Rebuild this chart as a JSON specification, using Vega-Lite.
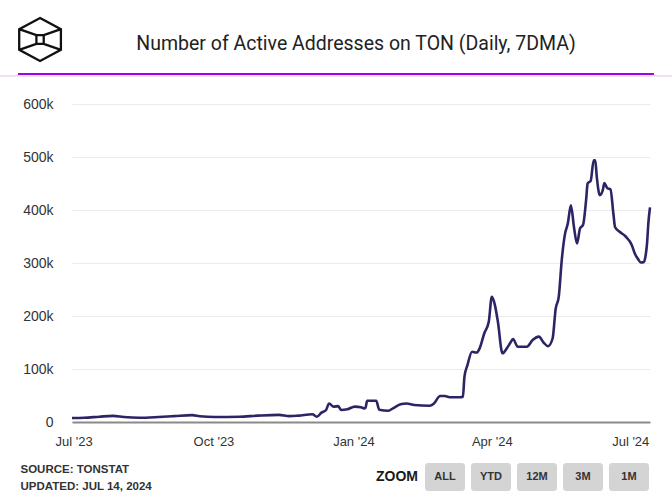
{
  "$schema": "https://vega.github.io/schema/vega-lite/v6.json",
  "width": 578,
  "height": 318,
  "autosize": {"type": "none"},
  "padding": {"left": 72, "top": 104, "right": 22, "bottom": 75},
  "background": "#ffffff",
  "config": {"view": {"stroke": null}, "font": "Liberation Sans"},
  "title": {
    "text": "Number of Active Addresses on TON (Daily, 7DMA)",
    "font": "Roboto",
    "fontSize": 19.5,
    "fontWeight": "normal",
    "color": "#222222",
    "anchor": "middle",
    "frame": "group",
    "dx": -5,
    "baseline": "alphabetic",
    "offset": -56
  },
  "layer": [
    {
      "layer": [
        {
          "data": {
            "values": [
              {"date": "2023-06-30", "addresses": 7500},
              {"date": "2023-07-08", "addresses": 8000},
              {"date": "2023-07-18", "addresses": 10000},
              {"date": "2023-07-27", "addresses": 11500},
              {"date": "2023-08-03", "addresses": 9400},
              {"date": "2023-08-13", "addresses": 8000},
              {"date": "2023-08-26", "addresses": 9400},
              {"date": "2023-09-05", "addresses": 11000},
              {"date": "2023-09-17", "addresses": 13000},
              {"date": "2023-09-22", "addresses": 11000},
              {"date": "2023-10-02", "addresses": 9500},
              {"date": "2023-10-18", "addresses": 10000},
              {"date": "2023-10-30", "addresses": 12000},
              {"date": "2023-11-13", "addresses": 13500},
              {"date": "2023-11-20", "addresses": 11000},
              {"date": "2023-11-26", "addresses": 12000},
              {"date": "2023-12-05", "addresses": 14500},
              {"date": "2023-12-08", "addresses": 10000},
              {"date": "2023-12-11", "addresses": 17600},
              {"date": "2023-12-14", "addresses": 22600},
              {"date": "2023-12-16", "addresses": 35000},
              {"date": "2023-12-19", "addresses": 29000},
              {"date": "2023-12-22", "addresses": 30000},
              {"date": "2023-12-24", "addresses": 22600},
              {"date": "2023-12-28", "addresses": 24000},
              {"date": "2024-01-02", "addresses": 29000},
              {"date": "2024-01-06", "addresses": 27700},
              {"date": "2024-01-08", "addresses": 25800},
              {"date": "2024-01-09", "addresses": 27000},
              {"date": "2024-01-10", "addresses": 40000},
              {"date": "2024-01-16", "addresses": 40000},
              {"date": "2024-01-18", "addresses": 23000},
              {"date": "2024-01-24", "addresses": 21300},
              {"date": "2024-01-27", "addresses": 25800},
              {"date": "2024-02-01", "addresses": 33400},
              {"date": "2024-02-05", "addresses": 35000},
              {"date": "2024-02-10", "addresses": 32000},
              {"date": "2024-02-20", "addresses": 30800},
              {"date": "2024-02-23", "addresses": 35000},
              {"date": "2024-02-27", "addresses": 49000},
              {"date": "2024-03-01", "addresses": 49000},
              {"date": "2024-03-05", "addresses": 46600},
              {"date": "2024-03-11", "addresses": 46600},
              {"date": "2024-03-13", "addresses": 47700},
              {"date": "2024-03-14", "addresses": 85000},
              {"date": "2024-03-16", "addresses": 107500},
              {"date": "2024-03-19", "addresses": 132600},
              {"date": "2024-03-22", "addresses": 131000},
              {"date": "2024-03-24", "addresses": 139000},
              {"date": "2024-03-27", "addresses": 167000},
              {"date": "2024-03-30", "addresses": 189000},
              {"date": "2024-04-01", "addresses": 236000},
              {"date": "2024-04-03", "addresses": 221000},
              {"date": "2024-04-05", "addresses": 189000},
              {"date": "2024-04-08", "addresses": 129600},
              {"date": "2024-04-11", "addresses": 139600},
              {"date": "2024-04-13", "addresses": 148500},
              {"date": "2024-04-15", "addresses": 156600},
              {"date": "2024-04-18", "addresses": 142000},
              {"date": "2024-04-24", "addresses": 142000},
              {"date": "2024-04-28", "addresses": 155000},
              {"date": "2024-05-02", "addresses": 161000},
              {"date": "2024-05-05", "addresses": 150000},
              {"date": "2024-05-08", "addresses": 143000},
              {"date": "2024-05-11", "addresses": 158000},
              {"date": "2024-05-13", "addresses": 214000},
              {"date": "2024-05-15", "addresses": 236000},
              {"date": "2024-05-17", "addresses": 306000},
              {"date": "2024-05-19", "addresses": 353000},
              {"date": "2024-05-21", "addresses": 375000},
              {"date": "2024-05-23", "addresses": 409000},
              {"date": "2024-05-25", "addresses": 368000},
              {"date": "2024-05-27", "addresses": 337000},
              {"date": "2024-05-29", "addresses": 365000},
              {"date": "2024-05-31", "addresses": 372000},
              {"date": "2024-06-02", "addresses": 419000},
              {"date": "2024-06-03", "addresses": 450000},
              {"date": "2024-06-05", "addresses": 455000},
              {"date": "2024-06-07", "addresses": 494000},
              {"date": "2024-06-08", "addresses": 494000},
              {"date": "2024-06-09", "addresses": 463000},
              {"date": "2024-06-11", "addresses": 428000},
              {"date": "2024-06-13", "addresses": 438000},
              {"date": "2024-06-14", "addresses": 451000},
              {"date": "2024-06-16", "addresses": 441000},
              {"date": "2024-06-18", "addresses": 439000},
              {"date": "2024-06-20", "addresses": 391000},
              {"date": "2024-06-21", "addresses": 368000},
              {"date": "2024-06-24", "addresses": 359000},
              {"date": "2024-06-28", "addresses": 350000},
              {"date": "2024-07-02", "addresses": 334000},
              {"date": "2024-07-04", "addresses": 318000},
              {"date": "2024-07-06", "addresses": 308000},
              {"date": "2024-07-08", "addresses": 301000},
              {"date": "2024-07-10", "addresses": 302000},
              {"date": "2024-07-11", "addresses": 312000},
              {"date": "2024-07-12", "addresses": 335000},
              {"date": "2024-07-13", "addresses": 378000},
              {"date": "2024-07-14", "addresses": 405000}
            ]
          },
          "mark": {"type": "line", "color": "#2b2565", "strokeWidth": 2.6, "interpolate": "monotone"},
          "encoding": {
            "x": {
              "field": "date",
              "type": "temporal",
              "scale": {
                "type": "utc",
                "domain": [
                  {"year": 2023, "month": 6, "date": 30, "utc": true},
                  {"year": 2024, "month": 7, "date": 14, "utc": true}
                ]
              },
              "axis": {
                "title": ["SOURCE: TONSTAT", "UPDATED: JUL 14, 2024"],
                "titleFont": "Liberation Sans",
                "titleFontSize": 11.5,
                "titleFontWeight": "bold",
                "titleColor": "#333333",
                "titleAnchor": "start",
                "titleAlign": "left",
                "titleX": -52,
                "titleY": 50,
                "titleBaseline": "alphabetic",
                "titleLineHeight": 17,
                "values": [
                  {"year": 2023, "month": 7, "date": 1, "utc": true},
                  {"year": 2023, "month": 10, "date": 1, "utc": true},
                  {"year": 2024, "month": 1, "date": 1, "utc": true},
                  {"year": 2024, "month": 4, "date": 1, "utc": true},
                  {"year": 2024, "month": 7, "date": 1, "utc": true}
                ],
                "format": "%b '%y",
                "labelFont": "Liberation Sans",
                "labelFontSize": 13,
                "labelColor": "#333333",
                "labelPadding": 13,
                "labelFlush": false,
                "labelOverlap": false,
                "ticks": false,
                "grid": false,
                "domain": true,
                "domainColor": "#8a8a8a",
                "domainWidth": 2
              }
            },
            "y": {
              "field": "addresses",
              "type": "quantitative",
              "scale": {"domain": [0, 600000], "nice": false},
              "axis": {
                "title": null,
                "values": [0, 100000, 200000, 300000, 400000, 500000, 600000],
                "labelExpr": "datum.value == 0 ? '0' : format(datum.value / 1000, 'd') + 'k'",
                "labelFont": "Liberation Sans",
                "labelFontSize": 14,
                "labelColor": "#333333",
                "labelPadding": 19,
                "ticks": false,
                "domain": false,
                "grid": true,
                "gridColor": "#ebebeb",
                "gridWidth": 1
              }
            }
          }
        },
        {
          "data": {"values": [{}]},
          "mark": {"type": "rule", "color": "#e8d8f2", "strokeWidth": 1.5},
          "encoding": {
            "x": {"datum": {"year": 2023, "month": 5, "date": 13, "hours": 18, "utc": true}, "type": "temporal"},
            "x2": {"datum": {"year": 2024, "month": 7, "date": 28, "hours": 12, "utc": true}},
            "y": {"datum": 652800, "type": "quantitative"}
          }
        },
        {
          "data": {"values": [{}]},
          "mark": {"type": "rule", "color": "#a100f2", "strokeWidth": 2},
          "encoding": {
            "x": {"datum": {"year": 2023, "month": 5, "date": 25, "hours": 12, "utc": true}, "type": "temporal"},
            "x2": {"datum": {"year": 2024, "month": 7, "date": 16, "hours": 14, "utc": true}},
            "y": {"datum": 656600, "type": "quantitative"}
          }
        },
        {
          "data": {"values": [{}]},
          "mark": {
            "type": "point",
            "shape": "M0,-1L0.97,-0.48L0.97,0.48L0,1L-0.97,0.48L-0.97,-0.48Z M-0.97,-0.48L-0.17,-0.2 M0.97,-0.48L0.17,-0.2 M-0.97,0.48L-0.17,0.2 M0.97,0.48L0.17,0.2 M-0.17,-0.2L0.17,-0.2L0.17,0.2L-0.17,0.2Z",
            "size": 1849,
            "filled": false,
            "stroke": "#111111",
            "strokeWidth": 2.3,
            "opacity": 1
          },
          "encoding": {
            "x": {"datum": {"year": 2023, "month": 6, "date": 9, "utc": true}, "type": "temporal"},
            "y": {"datum": 721700, "type": "quantitative"}
          }
        }
      ]
    },
    {
      "data": {
        "values": [
          {"label": "ZOOM"},
          {"label": "ALL"},
          {"label": "YTD"},
          {"label": "12M"},
          {"label": "3M"},
          {"label": "1M"}
        ]
      },
      "encoding": {
        "x": {
          "field": "label",
          "type": "nominal",
          "scale": {
            "domain": ["ZOOM", "ALL", "YTD", "12M", "3M", "1M"],
            "range": [307, 577],
            "paddingInner": 0.13,
            "paddingOuter": 0
          },
          "axis": null
        }
      },
      "layer": [
        {
          "transform": [{"filter": "datum.label != 'ZOOM'"}],
          "mark": {"type": "bar", "color": "#d4d4d4", "cornerRadius": 3},
          "encoding": {
            "y": {"datum": -77400, "type": "quantitative"},
            "y2": {"datum": -130200}
          }
        },
        {
          "transform": [{"filter": "datum.label != 'ZOOM'"}],
          "mark": {"type": "text", "font": "Liberation Sans", "fontSize": 11, "fontWeight": "bold", "color": "#333333"},
          "encoding": {
            "y": {"datum": -103800, "type": "quantitative"},
            "text": {"field": "label"}
          }
        },
        {
          "transform": [{"filter": "datum.label == 'ZOOM'"}],
          "mark": {"type": "text", "font": "Liberation Sans", "fontSize": 14, "fontWeight": "bold", "color": "#1a1a1a", "dx": -2},
          "encoding": {
            "y": {"datum": -103800, "type": "quantitative"},
            "text": {"field": "label"}
          }
        }
      ]
    }
  ],
  "resolve": {"scale": {"x": "independent"}}
}
